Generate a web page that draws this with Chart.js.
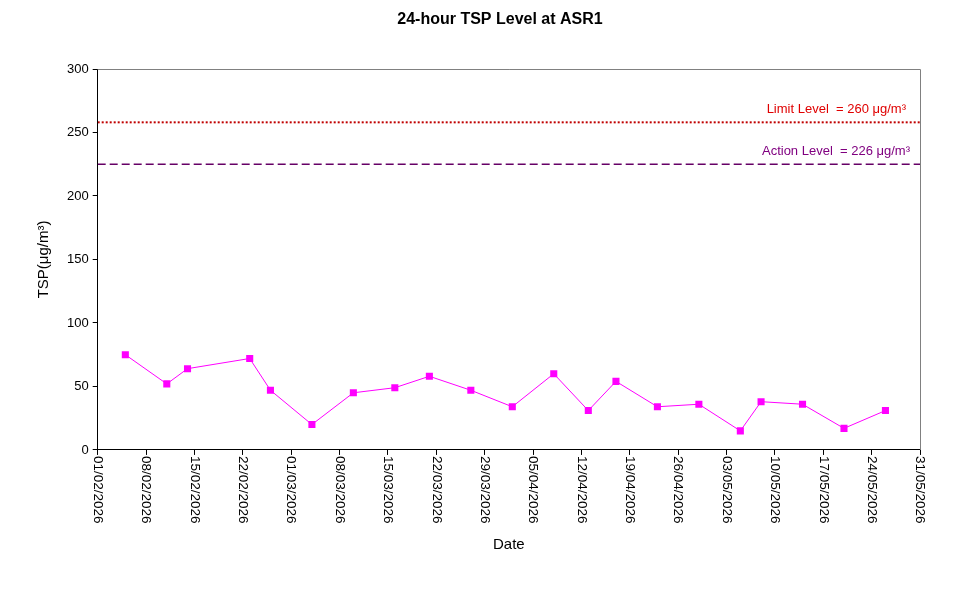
<!DOCTYPE html>
<html>
<head>
<meta charset="utf-8">
<script src="https://cdn.jsdelivr.net/npm/chart.js@4"></script>
<style>
  body { margin: 0; background: #fff; }
  #wrap { width: 967px; height: 590px; }
</style>
</head>
<body>
<div id="wrap"><canvas id="tsp" width="967" height="590"></canvas></div>
<script>
const sampleDates = ['05/02/2026', '11/02/2026', '14/02/2026', '23/02/2026', '26/02/2026', '04/03/2026',
    '10/03/2026', '16/03/2026', '21/03/2026', '27/03/2026', '02/04/2026', '08/04/2026', '13/04/2026',
    '17/04/2026', '23/04/2026', '29/04/2026', '05/05/2026', '08/05/2026', '14/05/2026', '20/05/2026', '26/05/2026'];
const tspValues = [75, 52, 64, 72, 47, 20, 45, 49, 58, 47, 34, 60, 31, 54, 34, 36, 15, 38, 36, 17, 31];
const axisStart = '01/02/2026';
const axisEnd = '31/05/2026';
const limitLevel = 258;
const actionLevel = 225;
const limitLabel = 'Limit Level  = 260 μg/m³';
const actionLabel = 'Action Level  = 226 μg/m³';
const yTicks = [0, 50, 100, 150, 200, 250, 300];
const chartTitle = '24-hour TSP Level at ASR1';

const DAY = 86400000;
function toDay(s) {
    const p = s.split('/');
    return (Date.UTC(+p[2], +p[1] - 1, +p[0]) - Date.UTC(2026, 1, 1)) / DAY;
}
function fmt(d) {
    const t = new Date(Date.UTC(2026, 1, 1) + d * DAY);
    const dd = String(t.getUTCDate()).padStart(2, '0');
    const mm = String(t.getUTCMonth() + 1).padStart(2, '0');
    return dd + '/' + mm + '/' + t.getUTCFullYear();
}

const xMin = toDay(axisStart), xMax = toDay(axisEnd);
const points = sampleDates.map((d, i) => ({ x: toDay(d), y: tspValues[i] }));

// title, frame, date labels turned clockwise and the level captions
const extras = {
    id: 'extras',
    afterDraw(chart) {
        const ctx = chart.ctx, xs = chart.scales.x, ys = chart.scales.y, a = chart.chartArea;
        ctx.save();
        ctx.font = 'bold 16px "Liberation Sans", Arial, sans-serif';
        ctx.fillStyle = '#000';
        ctx.textAlign = 'center';
        ctx.textBaseline = 'middle';
        ctx.fillText(chartTitle, 500, 20);

        ctx.strokeStyle = '#808080';
        ctx.lineWidth = 1;
        ctx.beginPath();
        ctx.moveTo(a.left, a.top + 0.5);
        ctx.lineTo(a.right + 0.5, a.top + 0.5);
        ctx.lineTo(a.right + 0.5, a.bottom);
        ctx.stroke();

        ctx.font = '13.5px "Liberation Sans", Arial, sans-serif';
        ctx.textAlign = 'left';
        xs.ticks.forEach(t => {
            const x = xs.getPixelForValue(t.value);
            ctx.save();
            ctx.translate(x, a.bottom + 6);
            ctx.rotate(Math.PI / 2);
            ctx.fillText(fmt(t.value), 0, 0);
            ctx.restore();
        });

        ctx.textAlign = 'right';
        ctx.textBaseline = 'bottom';
        ctx.font = '13px "Liberation Sans", Arial, sans-serif';
        ctx.fillStyle = '#e00000';
        ctx.fillText(limitLabel, a.right - 14, ys.getPixelForValue(limitLevel) - 6);
        ctx.fillStyle = '#800080';
        ctx.fillText(actionLabel, a.right - 10, ys.getPixelForValue(actionLevel) - 6);
        ctx.restore();
    }
};

document.addEventListener('DOMContentLoaded', () => {
    new Chart('tsp', {
        type: 'line',
        data: {
            datasets: [{
                label: 'TSP',
                data: points,
                borderColor: '#ff00ff',
                backgroundColor: '#ff00ff',
                borderWidth: 1,
                pointStyle: 'rect',
                pointRadius: 5,
                pointBorderWidth: 0
            }, {
                label: 'Limit',
                data: [{ x: xMin, y: limitLevel }, { x: xMax, y: limitLevel }],
                borderColor: '#c00000',
                borderWidth: 2,
                borderDash: [2, 2],
                pointRadius: 0
            }, {
                label: 'Action',
                data: [{ x: xMin, y: actionLevel }, { x: xMax, y: actionLevel }],
                borderColor: '#660066',
                borderWidth: 1.5,
                borderDash: [8, 4],
                pointRadius: 0
            }]
        },
        options: {
            responsive: false,
            animation: false,
            layout: { padding: { left: 31, right: 47, top: 69, bottom: 32 } },
            plugins: {
                legend: { display: false },
                tooltip: { enabled: false },
                title: { display: false }
            },
            scales: {
                x: {
                    type: 'linear',
                    min: xMin,
                    max: xMax,
                    grid: { drawOnChartArea: false, color: '#000', tickLength: 5 },
                    border: { color: '#000' },
                    ticks: {
                        stepSize: 7,
                        minRotation: 90,
                        maxRotation: 90,
                        color: 'rgba(0,0,0,0)',
                        font: { family: '"Liberation Sans", Arial', size: 13 },
                        callback: v => fmt(v)
                    },
                    title: {
                        display: true,
                        text: 'Date',
                        color: '#000',
                        font: { family: '"Liberation Sans", Arial', size: 15 },
                        padding: { top: 10 }
                    }
                },
                y: {
                    min: 0,
                    max: 300,
                    afterBuildTicks: s => { s.ticks = yTicks.map(v => ({ value: v })); },
                    grid: { drawOnChartArea: false, color: '#000', tickLength: 5 },
                    border: { color: '#000' },
                    ticks: {
                        color: '#000',
                        padding: 4,
                        font: { family: '"Liberation Sans", Arial', size: 13 }
                    },
                    title: {
                        display: true,
                        text: 'TSP(μg/m³)',
                        color: '#000',
                        font: { family: '"Liberation Sans", Arial', size: 15 },
                        padding: { bottom: 10 }
                    }
                }
            }
        },
        plugins: [extras]
    });
});
</script>
</body>
</html>
